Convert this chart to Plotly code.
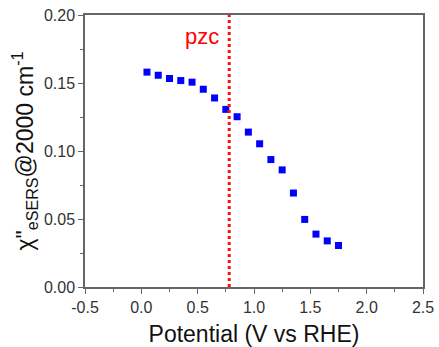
import plotly.graph_objects as go

potential = [0.05, 0.15, 0.25, 0.35, 0.45, 0.55, 0.65, 0.75, 0.85, 0.95,
             1.05, 1.15, 1.25, 1.35, 1.45, 1.55, 1.65, 1.75]
chi = [0.158, 0.1557, 0.1533, 0.1518, 0.1506, 0.1454, 0.139, 0.1306, 0.1252, 0.1139,
       0.1053, 0.0937, 0.0861, 0.0691, 0.0497, 0.0389, 0.0339, 0.0305]
pzc_x = 0.78
x_ticks = [-0.5, 0.0, 0.5, 1.0, 1.5, 2.0, 2.5]
y_ticks = [0.00, 0.05, 0.10, 0.15, 0.20]

fig = go.Figure()
fig.add_trace(go.Scatter(x=potential, y=chi, mode="markers",
                         marker=dict(symbol="square", size=7, color="#0000ff",
                                     line=dict(width=0)),
                         showlegend=False, cliponaxis=False))
fig.add_trace(go.Scatter(x=[pzc_x, pzc_x], y=[0, 0.2], mode="lines",
                         line=dict(color="#ff1010", width=3, dash="dot"),
                         showlegend=False))
fig.add_annotation(x=0.54, y=0.1845, text="pzc", showarrow=False,
                   font=dict(family="Arial, Liberation Sans", size=22, color="#ff0000"))

axis_common = dict(showgrid=False, zeroline=False, showline=True, linecolor="#666",
                   linewidth=1.5, mirror=True, ticks="outside", ticklen=5, tickcolor="#666",
                   automargin=False,
                   tickfont=dict(family="Arial, Liberation Sans", size=16, color="#333"),
                   minor=dict(ticks="outside", ticklen=3, tickcolor="#666"))
fig.update_xaxes(range=[-0.5, 2.5], tickvals=x_ticks, ticktext=[f"{v:.1f}" for v in x_ticks],
                 minor_dtick=0.25,
                 title=dict(text="Potential (V vs RHE)", standoff=12,
                            font=dict(family="Arial, Liberation Sans", size=23, color="#111")),
                 **axis_common)
fig.update_yaxes(range=[0, 0.2], tickvals=y_ticks, ticktext=[f"{v:.2f}" for v in y_ticks],
                 minor_dtick=0.025,
                 title=dict(text="χ\"<sub>eSERS</sub>@2000 cm<sup>-1</sup>", standoff=4,
                            font=dict(family="Arial, Liberation Sans", size=23, color="#111")),
                 **axis_common)
fig.update_layout(width=439, height=347, margin=dict(l=85, r=16, t=15, b=60),
                  plot_bgcolor="white", paper_bgcolor="white")
fig.write_html("out.html")
